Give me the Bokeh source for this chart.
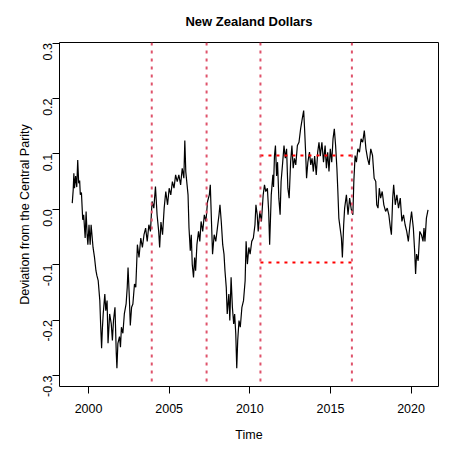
import math
from bokeh.plotting import figure
from bokeh.models import Span, FixedTicker, NumeralTickFormatter, Range1d
from bokeh.embed import file_html
from bokeh.resources import INLINE

# ---- data ----
years = [
    1998.99, 1999.05, 1999.09, 1999.13, 1999.20, 1999.27, 1999.33, 1999.39, 1999.45, 1999.49,
    1999.56, 1999.64, 1999.70, 1999.79, 1999.85, 1999.91, 1999.96, 2000.03, 2000.10, 2000.16,
    2000.28, 2000.37, 2000.46, 2000.52, 2000.60, 2000.70, 2000.75, 2000.81, 2000.86, 2000.91,
    2001.01, 2001.07, 2001.15, 2001.21, 2001.31, 2001.41, 2001.48, 2001.55, 2001.64, 2001.72,
    2001.76, 2001.82, 2001.92, 2001.98, 2002.04, 2002.13, 2002.22, 2002.33, 2002.40, 2002.45,
    2002.53, 2002.59, 2002.67, 2002.75, 2002.85, 2002.93,
    2003.03, 2003.13, 2003.24, 2003.34, 2003.44, 2003.54, 2003.64, 2003.74, 2003.84, 2003.94,
    2004.05, 2004.15, 2004.25, 2004.35, 2004.41, 2004.49, 2004.59, 2004.69, 2004.79, 2004.90,
    2005.00, 2005.10, 2005.20, 2005.30, 2005.40, 2005.50, 2005.60, 2005.71, 2005.81, 2005.91,
    2005.97, 2006.03, 2006.11, 2006.17, 2006.23, 2006.31, 2006.37, 2006.43, 2006.51, 2006.58,
    2006.64, 2006.72, 2006.82, 2006.90, 2006.98, 2007.08, 2007.18, 2007.28, 2007.38, 2007.49,
    2007.55, 2007.63, 2007.69, 2007.79, 2007.89, 2007.99, 2008.09, 2008.15, 2008.23, 2008.32,
    2008.40, 2008.46, 2008.54, 2008.60, 2008.70, 2008.76, 2008.84, 2008.92, 2009.00, 2009.06,
    2009.13, 2009.19, 2009.25, 2009.33, 2009.41, 2009.51, 2009.61, 2009.71, 2009.77, 2009.85,
    2009.94, 2010.02, 2010.12, 2010.22, 2010.32, 2010.38, 2010.46, 2010.52, 2010.62, 2010.72,
    2010.83, 2010.91, 2010.99, 2011.09, 2011.17, 2011.23, 2011.33, 2011.43, 2011.47, 2011.53,
    2011.59, 2011.66, 2011.72, 2011.80, 2011.88, 2011.94,
    2012.04, 2012.12, 2012.20, 2012.28, 2012.36, 2012.44, 2012.53, 2012.61, 2012.69, 2012.77,
    2012.85, 2012.95, 2013.05, 2013.15, 2013.25, 2013.34, 2013.40, 2013.46, 2013.52, 2013.60,
    2013.70, 2013.78, 2013.86, 2013.94, 2014.02, 2014.12, 2014.21, 2014.29, 2014.37, 2014.47,
    2014.57, 2014.67, 2014.75, 2014.83, 2014.91, 2014.99, 2015.08, 2015.16, 2015.24, 2015.32,
    2015.40, 2015.46, 2015.52, 2015.60, 2015.68, 2015.74, 2015.82, 2015.88,
    2015.99, 2016.09, 2016.19, 2016.29, 2016.39, 2016.45, 2016.53, 2016.61, 2016.70, 2016.80,
    2016.90, 2017.00, 2017.10, 2017.20, 2017.30, 2017.40, 2017.50, 2017.61, 2017.71, 2017.81,
    2017.87, 2017.95, 2018.03, 2018.11, 2018.21, 2018.31, 2018.42, 2018.52, 2018.62, 2018.72,
    2018.78, 2018.86, 2018.92, 2019.02, 2019.12, 2019.22, 2019.33, 2019.43, 2019.53, 2019.63,
    2019.73, 2019.83, 2019.93, 2020.03, 2020.14, 2020.22, 2020.28, 2020.34, 2020.44, 2020.54,
    2020.64, 2020.74, 2020.80, 2020.86, 2020.95, 2021.05,
]
deviation = [
    0.011, 0.035, 0.065, 0.038, 0.060, 0.040, 0.089, 0.047, 0.052, 0.026,
    0.030, -0.019, -0.010, -0.052, -0.004, -0.045, -0.064, -0.028, -0.064, -0.028,
    -0.069, -0.087, -0.111, -0.120, -0.129, -0.165, -0.207, -0.251, -0.215, -0.189,
    -0.153, -0.183, -0.165, -0.242, -0.189, -0.207, -0.237, -0.200, -0.177, -0.260,
    -0.287, -0.242, -0.230, -0.249, -0.213, -0.224, -0.189, -0.171, -0.141, -0.105,
    -0.159, -0.210, -0.177, -0.171, -0.135, -0.141,
    -0.064, -0.087, -0.052, -0.069, -0.046, -0.034, -0.058, -0.028, -0.040, 0.014,
    0.002, 0.041, -0.010, -0.040, -0.069, -0.023, -0.046, 0.002, 0.032, 0.008,
    0.038, 0.026, 0.050, 0.038, 0.062, 0.050, 0.062, 0.044, 0.074, 0.056,
    0.124, 0.068, 0.044, 0.026, -0.034, -0.075, -0.046, -0.099, -0.123, -0.087,
    -0.111, -0.064, -0.040, -0.058, -0.022, -0.040, -0.010, -0.022, 0.014, 0.026,
    0.044, -0.028, -0.081, -0.046, -0.058, -0.034, -0.010, 0.008, -0.022, -0.064,
    -0.081, -0.111, -0.141, -0.189, -0.153, -0.201, -0.123, -0.177, -0.207, -0.189,
    -0.225, -0.287, -0.237, -0.201, -0.213, -0.177, -0.165, -0.129, -0.058, -0.099,
    -0.069, -0.081, -0.058, -0.052, -0.028, 0.008, -0.010, -0.040, -0.004, -0.022,
    0.026, 0.044, 0.032, 0.038, -0.004, -0.064, 0.026, 0.062, 0.040, 0.097,
    0.115, 0.060, 0.085, 0.020, -0.010, 0.050,
    0.085, 0.115, 0.092, 0.109, 0.038, 0.020, 0.085, 0.115, 0.074, 0.092,
    0.080, 0.115, 0.121, 0.145, 0.163, 0.178, 0.143, 0.103, 0.056, 0.085,
    0.103, 0.080, 0.092, 0.068, 0.096, 0.062, 0.103, 0.121, 0.096, 0.121,
    0.085, 0.115, 0.074, 0.103, 0.068, 0.109, 0.085, 0.127, 0.145, 0.115,
    0.074, 0.032, -0.016, -0.034, -0.052, -0.087, -0.028, 0.002,
    0.026, -0.010, 0.020, 0.000, -0.010, 0.050, 0.097, 0.085, 0.109, 0.103,
    0.127, 0.121, 0.142, 0.109, 0.092, 0.080, 0.109, 0.097, 0.056, 0.050,
    0.008, 0.002, 0.038, 0.020, 0.032, 0.008, -0.004, 0.002, -0.010, -0.034,
    -0.046, 0.020, 0.044, 0.008, 0.026, 0.002, 0.020, -0.022, -0.010, -0.028,
    -0.040, -0.058, -0.028, -0.004, -0.034, -0.075, -0.117, -0.081, -0.093, -0.040,
    -0.046, -0.058, -0.034, -0.058, -0.016, -0.001,
]
breaks = [2003.92, 2007.32, 2010.66, 2016.33]
band_upper = 0.097
band_lower = -0.096
x_ticks = [2000, 2005, 2010, 2015, 2020]
y_ticks = [-0.3, -0.2, -0.1, 0.0, 0.1, 0.2, 0.3]

FONT = "Liberation Sans"

p = figure(width=439, height=444, output_backend="svg", toolbar_location=None,
           x_range=Range1d(1998.2, 2021.7), y_range=Range1d(-0.32, 0.301),
           title="New Zealand Dollars",
           min_border_left=59, min_border_right=1, min_border_top=42, min_border_bottom=57)

p.background_fill_color = "white"
p.border_fill_color = "white"
p.outline_line_color = "black"
p.outline_line_width = 1
p.grid.visible = False

p.title.align = "center"
p.title.vertical_align = "top"
p.title.text_font = FONT
p.title.text_font_size = "13px"
p.title.text_font_style = "bold"
p.title.text_color = "black"
p.title.standoff = 24

for ax in (p.xaxis[0], p.yaxis[0]):
    ax.axis_line_color = None
    ax.major_tick_line_color = "black"
    ax.major_tick_out = 7
    ax.major_tick_in = 0
    ax.minor_tick_out = 0
    ax.minor_tick_in = 0
    ax.major_label_text_font = FONT
    ax.major_label_text_font_size = "12.5px"
    ax.major_label_text_color = "black"
    ax.axis_label_text_font = FONT
    ax.axis_label_text_font_size = "12.5px"
    ax.axis_label_text_font_style = "normal"
    ax.axis_label_text_color = "black"

p.xaxis.ticker = FixedTicker(ticks=x_ticks)
p.xaxis.major_label_standoff = 10
p.xaxis.axis_label = "Time"
p.xaxis.axis_label_standoff = 12

p.yaxis.ticker = FixedTicker(ticks=y_ticks)
p.yaxis.formatter = NumeralTickFormatter(format="0.0")
p.yaxis.major_label_orientation = math.pi / 2
p.yaxis.major_label_standoff = 5
p.yaxis.axis_label = "Deviation from the Central Parity"
p.yaxis.axis_label_standoff = 4

p.line(years, deviation, line_color="black", line_width=1.2)

for b in breaks:
    p.add_layout(Span(location=b, dimension="height", line_color="#DF536B",
                      line_width=2, line_dash="3 5"))

p.segment(x0=[breaks[2], breaks[2]], x1=[breaks[3], breaks[3]],
          y0=[band_upper, band_lower], y1=[band_upper, band_lower],
          line_color="red", line_width=2, line_dash="3 5")

open("out.html", "w").write(file_html(p, INLINE))
